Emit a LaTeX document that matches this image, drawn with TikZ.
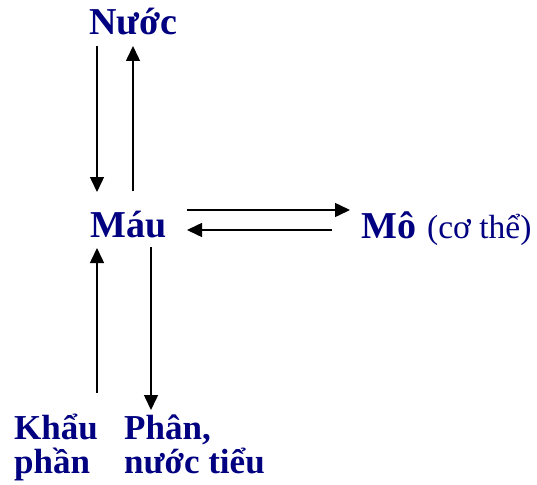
\documentclass[tikz,border=0pt]{standalone}
\usepackage{fontspec}
\setmainfont{Liberation Serif}
\usetikzlibrary{arrows.meta}
\definecolor{navyc}{RGB}{0,0,128}
\tikzset{
  lbl/.style={inner sep=0pt, anchor=base west, text=navyc, font=\bfseries\fontsize{38}{38}\selectfont},
  lblsm/.style={inner sep=0pt, anchor=base west, text=navyc, font=\fontsize{33.5}{33.5}\selectfont},
  two/.style={inner sep=0pt, anchor=base west, text=navyc, align=left, font=\bfseries\fontsize{35}{34}\selectfont},
  arr/.style={line width=1.5pt, -{Triangle[length=15pt,width=14pt]}}
}
\begin{document}
\begin{tikzpicture}[x=1pt,y=-1pt]
\useasboundingbox (0,0) rectangle (537,484);
\node[lbl] (nuoc) at (89,35) {Nước};
\node[lbl] (mau) at (90,237) {Máu};
\node[lbl] (mo) at (361,238) {Mô};
\node[lblsm] (cothe) at (427,238) {(cơ thể)};
\node[two] (khau) at (14,473) {Khẩu\\phần};
\node[two] (phan) at (124,473) {Phân,\\nước tiểu};
% coordinates for arrow ends
\coordinate (n1) at (97,46);
\coordinate (m1) at (97,192);
\coordinate (m2) at (133,191);
\coordinate (n2) at (133,46);
\coordinate (m3) at (187,210);
\coordinate (o1) at (350,210);
\coordinate (o2) at (332,230);
\coordinate (m4) at (187,230);
\coordinate (k1) at (97,393);
\coordinate (m5) at (97,248);
\coordinate (m6) at (151,247);
\coordinate (p1) at (151,410);
\draw[arr] (n1) -- (m1);
\draw[arr] (m2) -- (n2);
\draw[arr] (m3) -- (o1);
\draw[arr] (o2) -- (m4);
\draw[arr] (k1) -- (m5);
\draw[arr] (m6) -- (p1);
\end{tikzpicture}
\end{document}
